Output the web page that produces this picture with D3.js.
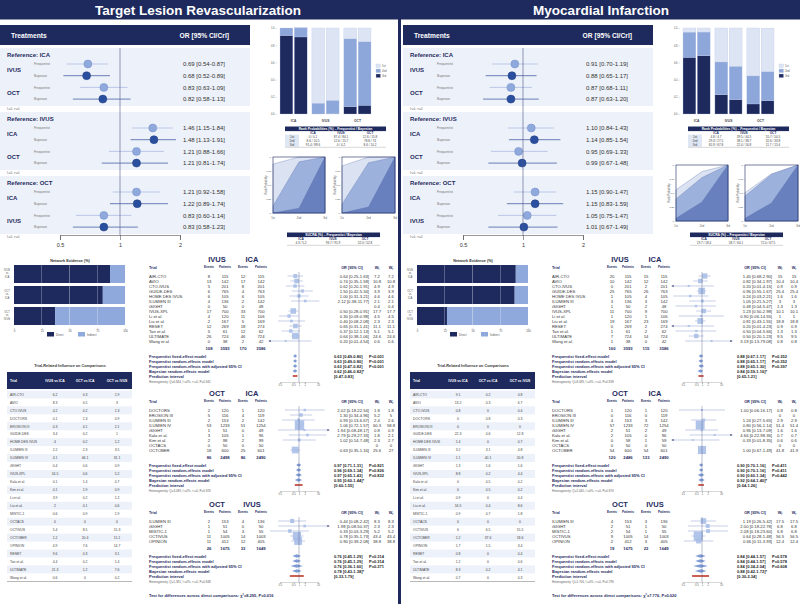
<!DOCTYPE html>
<html><head><meta charset="utf-8">
<script src="https://cdnjs.cloudflare.com/ajax/libs/d3/7.8.5/d3.min.js"></script>
<style>
body{margin:0;background:#fff;}
svg{font-family:"Liberation Sans",Arial,sans-serif;display:block;}
</style></head><body>
<script>
var treatments = ["ICA", "IVUS", "OCT"];
var ranks = ["1st", "2nd", "3rd"];
var comparisons = [["IVUS", "ICA"], ["OCT", "ICA"], ["OCT", "IVUS"]];
var modelLabels = ["Frequentist fixed-effect model", "Frequentist random-effects model",
  "Frequentist random-effects with adjusted 95% CI", "Bayesian random-effects model", "Prediction interval"];

// [reference, treatment, method, OR, lower, upper]
var tlrNma = [
  ["ICA","IVUS","Frequentist",0.69,0.54,0.87], ["ICA","IVUS","Bayesian",0.68,0.52,0.89],
  ["ICA","OCT","Frequentist",0.83,0.63,1.09], ["ICA","OCT","Bayesian",0.82,0.58,1.13],
  ["IVUS","ICA","Frequentist",1.46,1.15,1.84], ["IVUS","ICA","Bayesian",1.48,1.13,1.91],
  ["IVUS","OCT","Frequentist",1.21,0.88,1.66], ["IVUS","OCT","Bayesian",1.21,0.81,1.74],
  ["OCT","ICA","Frequentist",1.21,0.92,1.58], ["OCT","ICA","Bayesian",1.22,0.89,1.74],
  ["OCT","IVUS","Frequentist",0.83,0.60,1.14], ["OCT","IVUS","Bayesian",0.83,0.58,1.23]
];
var miNma = [
  ["ICA","IVUS","Frequentist",0.91,0.70,1.19], ["ICA","IVUS","Bayesian",0.88,0.65,1.17],
  ["ICA","OCT","Frequentist",0.87,0.68,1.11], ["ICA","OCT","Bayesian",0.87,0.63,1.20],
  ["IVUS","ICA","Frequentist",1.10,0.84,1.43], ["IVUS","ICA","Bayesian",1.14,0.85,1.54],
  ["IVUS","OCT","Frequentist",0.95,0.69,1.33], ["IVUS","OCT","Bayesian",0.99,0.67,1.48],
  ["OCT","ICA","Frequentist",1.15,0.90,1.47], ["OCT","ICA","Bayesian",1.15,0.83,1.59],
  ["OCT","IVUS","Frequentist",1.05,0.75,1.47], ["OCT","IVUS","Bayesian",1.01,0.67,1.49]
];

// rank probabilities (%) per treatment: [1st, 2nd, 3rd]
var tlrRankFreq = [[0, 8.6, 91.4], [87.4, 12.6, 0], [12.6, 78.8, 8.6]];
var tlrRankBayes = [[0.1, 10.5, 89.6], [84.1, 15.7, 0.2], [15.8, 74.0, 10.2]];
var miRankFreq = [[4.8, 29.3, 65.9], [39.5, 38.1, 22.4], [55.7, 32.6, 11.7]];
var miRankBayes = [[4.7, 27.5, 67.8], [44.5, 38.7, 16.8], [50.5, 33.8, 15.6]];

var tlrSucraFreq = [4.3, 93.7, 52.0], tlrSucraBayes = [5.2, 91.9, 52.8];
var miSucraFreq = [19.7, 58.7, 72.0], miSucraBayes = [18.4, 64.1, 67.5];

// network evidence, % direct
var tlrDirect = [86.5, 80, 37];
var miDirect = [89, 88, 27];

var influenceTrials = ["AIR-CTO","AVIO","CTO-IVUS","DOCTORS","EROSION III","GUIDE-DES","HOME DES IVUS",
  "ILUMIEN III","ILUMIEN IV","iSIGHT","IVUS-XPL","Kala et al.","Kim et al.","Li et al.","Liu et al.",
  "MISTIC-1","OCTACS","OCTIVUS","OCTOBER","OPINION","RESET","Tan et al.","ULTIMATE","Wang et al."];
var tlrInfluence = [[6.2,0.3,1.9],[8.3,0.5,3.0],[4.2,0.2,1.3],[0.1,1.3,0.9],[0.3,4.1,2.1],[3.4,0.2,1.0],
  [4.0,0.2,1.2],[2.2,2.3,3.5],[4.1,46.1,31.1],[0.4,0.6,0.9],[16.5,0.6,5.2],[0.1,1.4,0.7],[0.1,1.9,0.9],
  [3.9,0.2,1.2],[2.0,0.1,0.6],[0.6,0.9,1.9],[0,0,0],[5.4,8.5,15.3],[1.2,20.4,11.1],[4.9,7.6,14.7],
  [9.6,0.3,3.1],[4.4,0.2,1.4],[21.3,1.2,7.6],[0.6,0,0.2]];
var miInfluence = [[9.1,0.2,4.8],[13.2,0.3,6.7],[0.8,0,0.4],[0,0.8,0.3],[0,0,0],[22.3,0.6,12.8],
  [1.4,0,0.7],[3.2,3.1,4.8],[1.1,40.1,20.8],[1.3,1.6,1.6],[8.8,0.2,4.4],[0,0.5,0.2],[0,0.5,0.2],
  [0.9,0,0.4],[16.5,0.4,8.6],[0.9,0.7,1.8],[0,0,0],[6.0,6.5,15.5],[1.2,37.6,18.6],[1.7,1.5,3.4],
  [0.8,0,0.4],[1.2,0,0.6],[8.3,0.2,4.1],[0.7,0,0.3]];

// pairwise trials: [trial, events1, patients1, events2, patients2, OR, lower, upper, Wf, Wr]
var tlrIvusIca = [
  ["AIR-CTO",8,115,12,115,0.64,0.25,1.63,7.2,7.2], ["AVIO",13,142,17,142,0.74,0.35,1.58,10.8,10.8],
  ["CTO-IVUS",5,201,8,201,0.62,0.20,1.91,4.9,4.9], ["GUIDE-DES",6,765,4,763,1.50,0.42,5.34,3.9,3.9],
  ["HOME DES IVUS",6,105,6,105,1.00,0.31,3.21,4.6,4.6], ["ILUMIEN III",4,136,2,142,2.12,0.38,11.77,2.1,2.1],
  ["iSIGHT",0,50,0,48,null,null,null,0.4,0.4], ["IVUS-XPL",17,700,33,700,0.50,0.28,0.91,17.7,17.7],
  ["Li et al.",4,120,11,106,0.30,0.09,0.98,4.5,4.5], ["Liu et al.",2,167,5,169,0.40,0.08,2.08,2.3,2.3],
  ["RESET",12,269,18,274,0.65,0.31,1.41,11.1,11.1], ["Tan et al.",5,61,12,62,0.37,0.12,1.13,5.1,5.1],
  ["ULTIMATE",26,724,46,724,0.64,0.38,1.06,24.6,24.6], ["Wang et al.",0,38,2,42,0.20,0.01,4.54,0.6,0.6]
];
var tlrOctIca = [
  ["DOCTORS",2,120,1,120,2.02,0.18,22.54,1.8,1.8], ["EROSION III",5,116,4,119,1.30,0.34,4.96,5.2,5.0],
  ["ILUMIEN III",2,153,2,142,0.93,0.13,6.67,2.4,2.6], ["ILUMIEN IV",53,1233,51,1254,1.06,0.72,1.57,60.3,58.8],
  ["iSIGHT",1,51,0,49,1.94,0.08,48.17,0.8,0.9], ["Kala et al.",3,105,1,96,2.79,0.29,27.33,1.8,2.1],
  ["Kim et al.",2,98,2,99,1.02,0.14,7.48,2.3,2.7], ["OCTACS",0,50,0,50,null,null,null,0,0],
  ["OCTOBER",18,600,25,601,0.63,0.35,1.16,25.6,27.0]
];
var tlrOctIvus = [
  ["ILUMIEN III",2,153,4,136,0.44,0.08,2.42,8.3,8.3], ["iSIGHT",1,51,0,50,1.98,0.08,50.37,2.3,2.3],
  ["MISTIC-1",1,54,3,55,0.33,0.03,3.29,5.2,5.2], ["OCTIVUS",11,1005,14,1003,0.78,0.35,1.73,43.4,43.4],
  ["OPINION",11,412,12,405,0.90,0.39,2.08,38.8,38.8]
];
var miIvusIca = [
  ["AIR-CTO",20,115,15,115,1.40,0.68,2.90,15.0,15.0], ["AVIO",10,142,12,142,0.82,0.34,1.97,10.4,10.4],
  ["CTO-IVUS",0,201,2,201,0.20,0.01,4.15,0.9,0.9], ["GUIDE-DES",25,765,26,763,0.96,0.55,1.67,25.4,25.4],
  ["HOME DES IVUS",1,105,4,105,0.24,0.03,2.21,1.6,1.6], ["ILUMIEN III",3,136,3,142,1.05,0.21,5.27,3.0,3.0],
  ["iSIGHT",1,50,2,48,0.48,0.04,5.47,1.3,1.3], ["IVUS-XPL",11,700,9,700,1.23,0.50,2.98,10.1,10.1],
  ["Li et al.",1,120,1,106,0.90,0.06,14.55,1.0,1.0], ["Liu et al.",19,167,23,169,0.81,0.43,1.55,18.8,18.8],
  ["RESET",0,269,2,274,0.20,0.01,4.23,0.9,0.9], ["Tan et al.",1,61,2,62,0.50,0.04,5.66,1.3,1.3],
  ["ULTIMATE",7,724,14,724,0.50,0.20,1.23,9.5,9.5], ["Wang et al.",1,38,0,42,3.19,0.13,79.08,0.8,0.8]
];
var miOctIca = [
  ["DOCTORS",1,120,1,120,1.00,0.06,16.17,0.8,0.8], ["EROSION III",0,116,0,119,null,null,null,0,0],
  ["ILUMIEN III",4,153,3,142,1.24,0.27,5.65,2.9,2.9], ["ILUMIEN IV",57,1233,72,1254,0.80,0.56,1.14,51.4,51.4],
  ["iSIGHT",2,51,2,49,0.96,0.13,7.09,1.6,1.6], ["Kala et al.",2,105,0,96,4.66,0.22,98.36,0.7,0.7],
  ["Kim et al.",0,58,1,59,0.33,0.01,8.35,0.6,0.6], ["OCTACS",0,50,0,50,null,null,null,0,0],
  ["OCTOBER",54,600,54,601,1.00,0.67,1.49,41.8,41.9]
];
var miOctIvus = [
  ["ILUMIEN III",4,153,3,136,1.19,0.26,5.42,17.5,17.5], ["iSIGHT",2,51,1,50,2.00,0.18,22.78,6.8,6.8],
  ["MISTIC-1",2,54,1,55,2.08,0.18,23.60,6.8,6.8], ["OCTIVUS",9,1005,14,1003,0.64,0.28,1.48,56.5,56.5],
  ["OPINION",2,412,3,405,0.66,0.11,3.93,12.4,12.4]
];
var tlrTotals = [[108,3593,170,3586],[86,2498,86,2490],[26,1675,33,1649]];
var miTotals = [[100,3593,115,3586],[120,2486,133,2490],[19,1675,22,1649]];

// pooled: [OR, lower, upper, P]
var tlrIvusIcaSum = [[0.63,0.49,0.80,"P<0.001"],[0.63,0.49,0.80,"P<0.001"],[0.63,0.47,0.82,"P<0.001"],[0.62,0.46,0.82,""],[null,0.47,0.83,""]];
var tlrOctIcaSum = [[0.97,0.71,1.31,"P=0.821"],[0.96,0.69,1.34,"P=0.826"],[0.97,0.65,1.43,"P=0.832"],[0.95,0.60,1.44,""],[null,0.60,1.55,""]];
var tlrOctIvusSum = [[0.76,0.45,1.29,"P=0.314"],[0.76,0.45,1.29,"P=0.314"],[0.76,0.36,1.60,"P=0.371"],[0.78,0.43,1.38,""],[null,0.33,1.79,""]];
var miIvusIcaSum = [[0.88,0.67,1.17,"P=0.352"],[0.88,0.65,1.17,"P=0.352"],[0.88,0.65,1.30,"P=0.397"],[0.84,0.59,1.16,""],[null,0.65,1.21,""]];
var miOctIcaSum = [[0.90,0.70,1.16,"P=0.411"],[0.90,0.70,1.16,"P=0.411"],[0.90,0.60,1.34,"P=0.442"],[0.92,0.64,1.40,""],[null,0.64,1.26,""]];
var miOctIvusSum = [[0.84,0.44,1.57,"P=0.578"],[0.84,0.44,1.57,"P=0.578"],[0.84,0.34,2.04,"P=0.608"],[0.88,0.42,1.72,""],[null,0.30,2.34,""]];

var tlrHet = ["Q=6.844, I²=0%, τ²=0, P=0.941", "Q=3.089, I²=0%, τ²=0, P=0.929", "Q=1.381, I²=0%, τ²=0, P=0.848"];
var miHet = ["Q=8.089, I²=0%, τ²=0, P=0.839", "Q=2.440, I²=0%, τ²=0, P=0.874", "Q=1.706, I²=0%, τ²=0, P=0.789"];
var tlrTest = "χ²=8.295, P=0.016";
var miTest = "χ²=7.776, P=0.020";

var navy = "#1e2a5e", lightBg = "#edf1f9", midBlue = "#8fa9dc", darkBlue = "#2b4f9f";
var rankColors = ["#dde5f4", "#8ea7da", navy];
var cumColors = ["#dbe3f3", "#9db1dd", "#6880bd"];

var svg = d3.select("body").append("svg").attr("width", 800).attr("height", 604);
svg.append("rect").attr("width", 800).attr("height", 604).attr("fill", "#fff");
svg.append("rect").attr("width", 800).attr("height", 19.5).attr("fill", navy);
svg.append("rect").attr("x", 398).attr("y", 0).attr("width", 3).attr("height", 604).attr("fill", navy);

function txt(g, x, y, s, size, opts) {
  opts = opts || {};
  return g.append("text").attr("x", x).attr("y", y).attr("font-size", size)
    .attr("text-anchor", opts.anchor || "start")
    .attr("font-weight", opts.bold ? "bold" : "normal")
    .attr("fill", opts.fill || "#333").text(s);
}
function ci(d) { return d[0].toFixed(2) + " [" + d[1].toFixed(2) + "-" + d[2].toFixed(2) + "]"; }

function panel(p) {
  var g = svg.append("g").attr("transform", "translate(" + p.ox + ",0)");
  txt(g, 198, 14.6, p.title, 13.5, {anchor: "middle", bold: true, fill: "#fff"});

  // ---- network meta-analysis forest plot
  var fx = d3.scaleLog().domain([0.5, 2]).range([60, 180]);
  g.append("rect").attr("x", 0).attr("y", 25).attr("width", 250).attr("height", 20).attr("fill", navy);
  txt(g, 11, 37.5, "Treatments", 6.7, {bold: true, fill: "#fff"});
  txt(g, 229, 37.5, "OR [95% CI/CrI]", 6.7, {bold: true, fill: "#fff", anchor: "end"});
  treatments.forEach(function(ref, gi) {
    var y0 = 48 + gi * 64;
    g.append("rect").attr("x", 0).attr("y", y0).attr("width", 250).attr("height", 58).attr("fill", lightBg);
    txt(g, 7, y0 + 8.5, "Reference: " + ref, 6, {bold: true, fill: navy});
    var rows = p.nma.filter(function(r) { return r[0] === ref; });
    rows.forEach(function(r, i) {
      var y = y0 + 16 + i * 11.7;
      if (i % 2 === 0) txt(g, 7, y + 8, r[1], 6, {bold: true, fill: navy});
      txt(g, 34, y + 1.2, r[2], 3.2, {fill: "#777"});
      var freq = r[2] === "Frequentist";
      g.append("line").attr("x1", fx(r[4])).attr("x2", fx(r[5])).attr("y1", y).attr("y2", y)
        .attr("stroke", freq ? "#b5c3e5" : "#5c71ad").attr("stroke-width", 0.9);
      g.append("circle").attr("cx", fx(r[3])).attr("cy", y).attr("r", 4)
        .attr("fill", freq ? midBlue : darkBlue).attr("stroke", freq ? "#7590cc" : "#223f85").attr("stroke-width", 0.5);
      txt(g, 183, y + 2.1, ci(r.slice(3)), 6);
    });
    txt(g, 7, y0 + 62, "I²=0, τ²=0", 3, {fill: "#666"});
  });
  g.append("line").attr("x1", fx(1)).attr("x2", fx(1)).attr("y1", 48).attr("y2", 235)
    .attr("stroke", "#4a5787").attr("stroke-width", 0.6);
  var ax = g.append("g").attr("transform", "translate(0,235)")
    .call(d3.axisBottom(fx).tickValues([0.5, 1, 2]).tickFormat(function(d) { return d; }).tickSize(5).tickPadding(3));
  ax.selectAll("path,line").attr("stroke", "#555").attr("stroke-width", 0.6);
  ax.selectAll("text").attr("font-size", 5.5).attr("fill", "#333");

  // ---- rank probability bars
  var bx = d3.scaleBand().domain(treatments).range([280, 371]).paddingInner(0.15);
  var bm = d3.scaleBand().domain(["F", "B"]).range([0, bx.bandwidth()]).paddingInner(0.1);
  var by = d3.scaleLinear().domain([0, 100]).range([114, 28]);
  treatments.forEach(function(t, ti) {
    [p.rankF[ti], p.rankB[ti]].forEach(function(pr, mi) {
      var x = bx(t) + bm(mi ? "B" : "F"), base = 0;
      [2, 1, 0].forEach(function(k) {
        g.append("rect").attr("x", x).attr("width", bm.bandwidth())
          .attr("y", by(base + pr[k])).attr("height", by(base) - by(base + pr[k]))
          .attr("fill", rankColors[k]).attr("stroke", "#b9c6e6").attr("stroke-width", 0.3);
        base += pr[k];
      });
    });
    txt(g, bx(t) + bx.bandwidth() / 2, 121.5, t, 3.3, {anchor: "middle", bold: true, fill: "#444"});
  });
  var bya = g.append("g").attr("transform", "translate(277,0)")
    .call(d3.axisLeft(by).tickValues([0, 20, 40, 60, 80, 100]).tickFormat(function(d) { return (d / 100).toFixed(1); }).tickSize(1.5).tickPadding(1));
  bya.select(".domain").remove();
  bya.selectAll("line").attr("stroke", "#888").attr("stroke-width", 0.3);
  bya.selectAll("text").attr("font-size", 2.6).attr("fill", "#555");
  ranks.forEach(function(r, k) {
    g.append("rect").attr("x", 376).attr("y", 64 + k * 5).attr("width", 4.5).attr("height", 3.6)
      .attr("fill", rankColors[k]).attr("stroke", "#b9c6e6").attr("stroke-width", 0.3);
    txt(g, 382, 66.8 + k * 5, r, 2.8, {fill: "#555"});
  });

  // ---- rank probability table
  var tc = [313, 341, 370];
  g.append("rect").attr("x", 285).attr("y", 126.5).attr("width", 101).attr("height", 4.6).attr("fill", navy);
  txt(g, 335.5, 129.9, "Rank Probabilities (%) – Frequentist / Bayesian", 3.3, {anchor: "middle", bold: true, fill: "#fff"});
  g.append("rect").attr("x", 285).attr("y", 134.6).attr("width", 14).attr("height", 12.2).attr("fill", "#dfe6f4");
  treatments.forEach(function(t, i) { txt(g, tc[i], 133.8, t, 3.2, {anchor: "middle", bold: true, fill: navy}); });
  ranks.forEach(function(r, k) {
    var y = 137.9 + k * 4;
    txt(g, 292, y, r, 3.1, {anchor: "middle", fill: "#444"});
    treatments.forEach(function(t, i) {
      txt(g, tc[i], y, p.rankF[i][k] + " / " + p.rankB[i][k], 3.1, {anchor: "middle", fill: "#444"});
    });
  });
  g.append("line").attr("x1", 285).attr("x2", 386).attr("y1", 147.3).attr("y2", 147.3).attr("stroke", "#999").attr("stroke-width", 0.4);

  // ---- cumulative ranking plots
  [p.rankF, p.rankB].forEach(function(rk, m) {
    var x0 = m ? 342 : 273, x1 = m ? 395 : 325, y0 = p.cumY, y1 = p.cumY + 56;
    var cx = d3.scalePoint().domain(ranks).range([x0, x1]);
    var cy = d3.scaleLinear().domain([0, 100]).range([y1, y0]);
    var cum = rk.map(function(pr) { return [pr[0], pr[0] + pr[1], 100]; });
    var order = d3.range(3).sort(function(a, b) { return d3.sum(cum[b]) - d3.sum(cum[a]); });
    var area = d3.area().x(function(d, i) { return cx(ranks[i]); }).y0(y1).y1(function(d) { return cy(d); });
    g.append("rect").attr("x", x0).attr("y", y0).attr("width", x1 - x0).attr("height", y1 - y0).attr("fill", "#fff");
    order.forEach(function(ti, k) {
      g.append("path").attr("d", area(cum[ti])).attr("fill", cumColors[k])
        .attr("stroke", "#4d64a3").attr("stroke-width", 0.3);
    });
    g.append("rect").attr("x", x0).attr("y", y0).attr("width", x1 - x0).attr("height", y1 - y0)
      .attr("fill", "none").attr("stroke", navy).attr("stroke-width", 0.6);
    var ya = g.append("g").attr("transform", "translate(" + x0 + ",0)")
      .call(d3.axisLeft(cy).tickValues([0, 25, 50, 75, 100]).tickFormat(function(d) { return d / 100; }).tickSize(1.2).tickPadding(0.8));
    ya.select(".domain").remove();
    ya.selectAll("line").attr("stroke", "#888").attr("stroke-width", 0.3);
    ya.selectAll("text").attr("font-size", 2.5).attr("fill", "#555");
    ranks.forEach(function(r) { txt(g, cx(r), y1 + 6, r, 2.6, {anchor: "middle", fill: "#555"}); });
    txt(g, 0, 0, "Rank Probability", 2.6, {anchor: "middle", fill: "#555"})
      .attr("transform", "translate(" + (x0 - 6) + "," + (y0 + 28) + ") rotate(-90)");
  });

  // ---- SUCRA table
  var sc = [301, 333, 365];
  g.append("rect").attr("x", 287).attr("y", 232.5).attr("width", 93).attr("height", 4.6).attr("fill", navy);
  txt(g, 333.5, 235.9, "SUCRA (%) – Frequentist / Bayesian", 3.3, {anchor: "middle", bold: true, fill: "#fff"});
  treatments.forEach(function(t, i) {
    txt(g, sc[i], 240, t, 3.2, {anchor: "middle", bold: true, fill: navy});
    txt(g, sc[i], 243.8, p.sucraF[i].toFixed(1) + " / " + p.sucraB[i].toFixed(1), 3.1, {anchor: "middle", fill: "#444"});
  });
  g.append("line").attr("x1", 287).attr("x2", 380).attr("y1", 245.3).attr("y2", 245.3).attr("stroke", "#999").attr("stroke-width", 0.4);

  // ---- network evidence
  var nx = d3.scaleLinear().domain([0, 100]).range([14, 125]);
  txt(g, 70, 262, "Network Evidence (%)", 3.8, {anchor: "middle", bold: true, fill: "#333"});
  comparisons.forEach(function(c, i) {
    var y = 265 + i * 21;
    g.append("rect").attr("x", nx(0)).attr("y", y).attr("width", nx(p.direct[i]) - nx(0)).attr("height", 18).attr("fill", navy);
    g.append("rect").attr("x", nx(p.direct[i])).attr("y", y).attr("width", nx(100) - nx(p.direct[i])).attr("height", 18).attr("fill", midBlue);
    [25, 50, 75].forEach(function(v) {
      g.append("line").attr("x1", nx(v)).attr("x2", nx(v)).attr("y1", y).attr("y2", y + 18).attr("stroke", "#fff").attr("stroke-width", 0.5).attr("opacity", 0.7);
    });
    [c[0], "vs", c[1]].forEach(function(s, j) { txt(g, 7, y + 5.5 + j * 3.8, s, 2.7, {anchor: "middle", fill: "#555"}); });
  });
  var na = g.append("g").attr("transform", "translate(0,328)")
    .call(d3.axisBottom(nx).tickValues([0, 25, 50, 75, 100]).tickSize(1.5).tickPadding(1));
  na.select(".domain").remove();
  na.selectAll("line").attr("stroke", "#888").attr("stroke-width", 0.3);
  na.selectAll("text").attr("font-size", 2.8).attr("fill", "#555");
  g.append("rect").attr("x", 47).attr("y", 332).attr("width", 7).attr("height", 4.5).attr("fill", navy);
  txt(g, 56, 335.5, "Direct", 2.9, {fill: "#555"});
  g.append("rect").attr("x", 78).attr("y", 332).attr("width", 7).attr("height", 4.5).attr("fill", midBlue);
  txt(g, 87, 335.5, "Indirect", 2.9, {fill: "#555"});

  // ---- trial-related influence table
  var ic = [55, 85, 117];
  txt(g, 70, 366.5, "Trial-Related Influence on Comparisons", 3.8, {anchor: "middle", bold: true, fill: "#333"});
  g.append("rect").attr("x", 7).attr("y", 372).attr("width", 125).attr("height", 17).attr("fill", navy);
  txt(g, 10, 381.8, "Trial", 3.4, {bold: true, fill: "#fff"});
  comparisons.forEach(function(c, i) { txt(g, ic[i], 381.8, c[0] + " vs " + c[1], 3.4, {anchor: "middle", bold: true, fill: "#fff"}); });
  influenceTrials.forEach(function(t, i) {
    var y = 390.5 + i * 7.95;
    if (i % 2 === 0) g.append("rect").attr("x", 7).attr("y", y).attr("width", 125).attr("height", 7.95).attr("fill", lightBg);
    txt(g, 10, y + 5.2, t, 3.4, {fill: "#444"});
    p.influence[i].forEach(function(v, j) { txt(g, ic[j], y + 5.2, v, 3.4, {anchor: "middle", fill: "#444"}); });
  });
  g.append("line").attr("x1", 7).attr("x2", 132).attr("y1", 581.5).attr("y2", 581.5).attr("stroke", "#999").attr("stroke-width", 0.7);

  // ---- pairwise meta-analyses
  var mx = d3.scaleLog().domain([0.1, 10]).range([280, 318]);
  var cols = [209, 225, 243, 261];
  var heads = [262, 396, 507];
  function clip(v) { return Math.max(0.025, Math.min(40, v)); }
  comparisons.forEach(function(c, k) {
    var H = heads[k], trials = p.pairs[k];
    txt(g, 217, H, c[0], 7.5, {anchor: "middle", bold: true, fill: navy});
    txt(g, 252, H, c[1], 7.5, {anchor: "middle", bold: true, fill: navy});
    txt(g, 149, H + 6.5, "Trial", 3.8, {bold: true, fill: navy});
    ["Events", "Patients", "Events", "Patients"].forEach(function(s, j) { txt(g, cols[j], H + 6.3, s, 3.1, {anchor: "middle", bold: true, fill: navy}); });
    txt(g, 352, H + 6.5, "OR [95% CI]", 3.8, {anchor: "middle", bold: true, fill: navy});
    ["f", "r"].forEach(function(s, j) {
      var t = txt(g, j ? 391 : 377, H + 6.5, "W", 3.8, {anchor: "middle", bold: true, fill: navy});
      t.append("tspan").attr("font-size", 2.6).attr("dy", 1).text(s);
    });
    var yLast = 0;
    trials.forEach(function(r, i) {
      var y = H + 14 + i * 5;
      yLast = y;
      txt(g, 149, y + 1.5, r[0], 4.2, {fill: "#333"});
      [r[1], r[2], r[3], r[4]].forEach(function(v, j) { txt(g, cols[j], y + 1.5, v, 4.2, {anchor: "middle"}); });
      if (r[5] !== null) {
        txt(g, 369, y + 1.5, ci(r.slice(5)), 4.2, {anchor: "end"});
        var lo = clip(r[6]), hi = clip(r[7]);
        g.append("line").attr("x1", mx(lo)).attr("x2", mx(hi)).attr("y1", y).attr("y2", y).attr("stroke", "#6f86c0").attr("stroke-width", 0.4);
        if (r[6] < 0.025) g.append("path").attr("d", "M" + mx(lo) + "," + y + "l2,-1v2z").attr("fill", navy);
        if (r[7] > 40) g.append("path").attr("d", "M" + mx(hi) + "," + y + "l-2,-1v2z").attr("fill", navy);
        var s = 1 + Math.sqrt(r[9]) * 1.1;
        g.append("rect").attr("x", mx(r[5]) - s / 2).attr("y", y - s / 2).attr("width", s).attr("height", s)
          .attr("fill", "#a9bee7").attr("opacity", 0.9);
      }
      txt(g, 377, y + 1.5, r[8], 4.2, {anchor: "middle"});
      txt(g, 391, y + 1.5, r[9], 4.2, {anchor: "middle"});
    });
    var yt = yLast + 7;
    p.totals[k].forEach(function(v, j) { txt(g, cols[j], yt + 1.5, v, 4.2, {anchor: "middle", bold: true, fill: navy}); });
    var ys = yt + 8, yEnd = ys;
    p.sums[k].forEach(function(d, j) {
      var y = ys + j * 5;
      yEnd = y;
      txt(g, 149, y + 1.5, modelLabels[j], 4, {bold: true, fill: navy});
      if (d[0] !== null) {
        g.append("path").attr("d", "M" + mx(d[1]) + "," + y + "L" + mx(d[0]) + "," + (y - 1.8) + "L" + mx(d[2]) + "," + y + "L" + mx(d[0]) + "," + (y + 1.8) + "Z")
          .attr("fill", "#7f9bd6");
        txt(g, 334, y + 1.5, ci(d) + (j === 3 ? "*" : ""), 4, {bold: true, fill: "#222"});
        txt(g, 369, y + 1.5, d[3], 4, {bold: true, fill: "#222"});
      } else {
        g.append("rect").attr("x", mx(d[1])).attr("y", y - 0.8).attr("width", mx(d[2]) - mx(d[1])).attr("height", 1.6).attr("fill", "#c0392b");
        txt(g, 334, y + 1.5, "[" + d[1].toFixed(2) + "-" + d[2].toFixed(2) + "]", 4, {bold: true, fill: "#222"});
      }
    });
    txt(g, 149, yEnd + 7, "Heterogeneity: " + p.het[k], 3, {fill: "#666"});
    g.append("line").attr("x1", mx(1)).attr("x2", mx(1)).attr("y1", H + 10).attr("y2", yEnd + 6)
      .attr("stroke", "#4a5787").attr("stroke-width", 0.4);
    var ma = g.append("g").attr("transform", "translate(0," + (yEnd + 6) + ")")
      .call(d3.axisBottom(mx).tickValues([0.1, 0.5, 1, 2, 10]).tickFormat(function(d) { return d; }).tickSize(1.5).tickPadding(1));
    ma.selectAll("path,line").attr("stroke", "#777").attr("stroke-width", 0.3);
    ma.selectAll("text").attr("font-size", 2.6).attr("fill", "#555");
  });
  txt(g, 149, 597, "Test for differences across direct comparisons: " + p.test, 4, {bold: true, fill: navy});
}

panel({ox: 0, title: "Target Lesion Revascularization", nma: tlrNma, rankF: tlrRankFreq, rankB: tlrRankBayes,
  sucraF: tlrSucraFreq, sucraB: tlrSucraBayes, direct: tlrDirect, influence: tlrInfluence,
  pairs: [tlrIvusIca, tlrOctIca, tlrOctIvus], totals: tlrTotals, sums: [tlrIvusIcaSum, tlrOctIcaSum, tlrOctIvusSum],
  het: tlrHet, test: tlrTest, cumY: 157});
panel({ox: 403, title: "Myocardial Infarction", nma: miNma, rankF: miRankFreq, rankB: miRankBayes,
  sucraF: miSucraFreq, sucraB: miSucraBayes, direct: miDirect, influence: miInfluence,
  pairs: [miIvusIca, miOctIca, miOctIvus], totals: miTotals, sums: [miIvusIcaSum, miOctIcaSum, miOctIvusSum],
  het: miHet, test: miTest, cumY: 165});
</script></body></html>
